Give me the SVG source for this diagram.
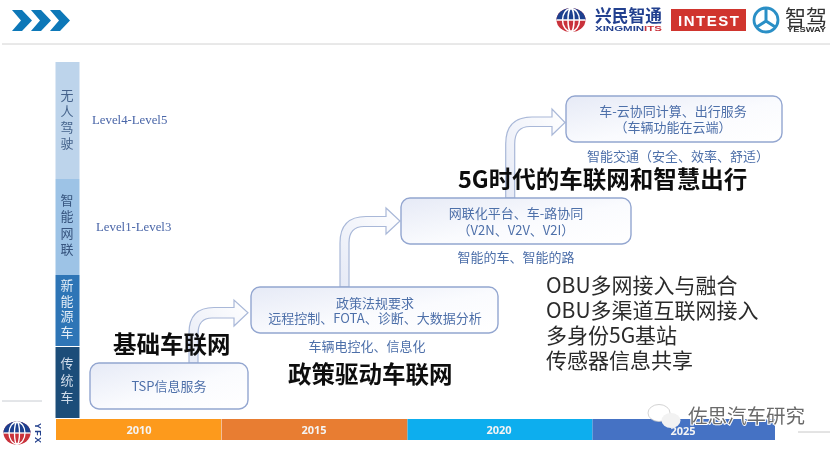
<svg xmlns="http://www.w3.org/2000/svg" width="833" height="451" viewBox="0 0 833 451">
<style>
text{font-family:"Noto Sans CJK SC","Liberation Sans",sans-serif}
.box{fill:url(#bg);stroke:#93a6d0;stroke-width:1.4}
.t{fill:#4d6fa9;font-size:13px;text-anchor:middle}
.h{fill:#111;font-weight:700;font-size:23.5px}
.o{fill:#2b2b2b;font-size:21px}
.arrow{fill:url(#ag);stroke:#a9b8d8;stroke-width:1.2}
.lv{font-family:"Liberation Serif",serif;fill:#4a66a8;font-size:12.800px}
.col{font-size:13px;text-anchor:middle}
.yr{fill:#f4f4f4;font-size:11px;font-weight:700;text-anchor:middle;font-family:"Open Sans","Liberation Sans",sans-serif}
</style>
<defs>
<linearGradient id="bg" x1="0" y1="0" x2="1" y2="1"><stop offset="0" stop-color="#e6eaf6"/><stop offset=".55" stop-color="#fafbfe"/><stop offset="1" stop-color="#fff"/></linearGradient>
<linearGradient id="ag" x1="0" y1="1" x2="1" y2="0"><stop offset="0" stop-color="#e6eaf6"/><stop offset="1" stop-color="#fff"/></linearGradient>
<filter id="soft" x="0" y="0" width="100%" height="100%"><feGaussianBlur stdDeviation="0.35"/></filter>
</defs>
<rect width="833" height="451" fill="#fff"/>
<g filter="url(#soft)">
<g id="header">
<path d="M12 10h10l10 10.500-10 10.500h-10l9-10.500zM31 10h10l10 10.500-10 10.500h-10l9-10.500zM50 10h10l10 10.500-10 10.500h-10l9-10.500z" fill="#0b78b8"/>
<line x1="2" y1="44" x2="830" y2="44" stroke="#d2d2d2"/>
<line x1="2" y1="401" x2="42" y2="401" stroke="#c8ccd2"/>
<line x1="798" y1="432" x2="830" y2="432" stroke="#c8c8c8"/>
</g>
<g id="logo-xingmin">
<ellipse cx="571" cy="20" rx="14.500" ry="12" fill="#c9303a"/>
<path d="M556.500 20a14.500 12 0 0 1 29 0z" fill="#1f3f8f"/>
<g fill="none" stroke="#fff" stroke-width="1.500"><ellipse cx="571" cy="20" rx="3" ry="11.500"/><ellipse cx="571" cy="20" rx="8.500" ry="11.500"/><line x1="556.500" y1="20" x2="585.500" y2="20"/></g>
<text x="595" y="22" font-size="17" font-weight="700" fill="#23408f" textLength="67" lengthAdjust="spacingAndGlyphs">兴民智通</text>
<text x="595" y="31" font-size="8" font-weight="700" fill="#23408f" style="font-family:'Liberation Sans',sans-serif" textLength="67" lengthAdjust="spacingAndGlyphs">XINGMIN<tspan fill="#c9303a">ITS</tspan></text>
</g>
<g id="logo-intest">
<rect x="671" y="9" width="75" height="22" fill="#d0342f"/>
<text x="708.500" y="26" font-size="15" font-weight="700" fill="#fff" text-anchor="middle" style="font-family:'Liberation Sans',sans-serif" textLength="61">INTEST</text>
</g>
<g id="logo-yesway">
<circle cx="766" cy="20" r="12" fill="none" stroke="#2a8fc6" stroke-width="2.800"/>
<path d="M766 21v-12M766 21l-10 6.500M766 21l10 6.500" stroke="#2a8fc6" stroke-width="3" fill="none"/>
<text x="785" y="25" font-size="21" fill="#333" textLength="42" lengthAdjust="spacingAndGlyphs">智驾</text>
<text x="787" y="32" font-size="6.500" font-weight="700" fill="#333" style="font-family:'Liberation Sans',sans-serif" textLength="39" lengthAdjust="spacingAndGlyphs">YESWAY</text>
</g>
<g id="logo-yfx">
<ellipse cx="17" cy="433" rx="13.500" ry="11.500" fill="#c9303a"/>
<path d="M3.500 433a13.500 11.500 0 0 1 27 0z" fill="#1f3f8f"/>
<g fill="none" stroke="#fff" stroke-width="1.300"><ellipse cx="17" cy="433" rx="2.500" ry="11"/><ellipse cx="17" cy="433" rx="8" ry="11"/><line x1="3.500" y1="433" x2="30.500" y2="433"/></g>
<text transform="translate(35,423) rotate(90)" font-size="9" font-weight="700" fill="#22408c" style="font-family:'Liberation Sans',sans-serif" textLength="20">YFX</text>
</g>
<g id="row-autonomous">
<rect x="55.500" y="62" width="24" height="117" fill="#bdd4eb"/>
<text class="col" fill="#46648c" x="67" y="100">无</text><text class="col" fill="#46648c" x="67" y="116">人</text><text class="col" fill="#46648c" x="67" y="132">驾</text><text class="col" fill="#46648c" x="67" y="148">驶</text>
</g>
<g id="row-connected">
<rect x="55.500" y="179" width="24" height="96" fill="#9dc3e6"/>
<text class="col" fill="#37557f" x="67" y="205">智</text><text class="col" fill="#37557f" x="67" y="221">能</text><text class="col" fill="#37557f" x="67" y="238">网</text><text class="col" fill="#37557f" x="67" y="254">联</text>
</g>
<g id="row-nev">
<rect x="55.500" y="275" width="24" height="71" fill="#2e75b6"/>
<text class="col" fill="#e4edf6" x="67" y="290">新</text><text class="col" fill="#e4edf6" x="67" y="306">能</text><text class="col" fill="#e4edf6" x="67" y="321">源</text><text class="col" fill="#e4edf6" x="67" y="337">车</text>
</g>
<g id="row-traditional">
<rect x="55.500" y="347" width="24" height="71" fill="#1f4e79"/>
<text class="col" fill="#cfdcea" x="67" y="368">传</text><text class="col" fill="#cfdcea" x="67" y="385">统</text><text class="col" fill="#cfdcea" x="67" y="402">车</text>
</g>
<g id="level-4-5"><text class="lv" x="92" y="124">Level4-Level5</text></g>
<g id="level-1-3"><text class="lv" x="96" y="231">Level1-Level3</text></g>
<g id="timeline">
<rect x="56" y="419" width="165" height="21" fill="#fd9a1c"/>
<rect x="221.500" y="419" width="186" height="21" fill="#e87d32"/>
<rect x="407.500" y="419" width="185" height="21" fill="#10aeee"/>
<rect x="592.500" y="419" width="182.500" height="21" fill="#4472c4"/>
<text class="yr" x="139" y="434">2010</text>
<text class="yr" x="314" y="434">2015</text>
<text class="yr" x="499" y="434">2020</text>
<text class="yr" x="683" y="435">2025</text>
</g>
<g id="connectors">
<path class="arrow" d="M189 363V333Q189 307.500 214 307.500H234V300L248 312.700 234 326V318H212Q198 318 198 334V363Z"/>
<path class="arrow" d="M340 287V243Q340 216.500 366 216.500H386V208L400 221 386 234V226.500H364Q349 226.500 349 243V287Z"/>
<path class="arrow" d="M505.700 198V144Q505.700 117 532 117H552V109L565 122.500 552 135V126.500H530Q514.700 126.500 514.700 144V198Z"/>
</g>
<g id="node-tsp">
<rect class="box" x="90" y="363" width="158" height="46" rx="9"/>
<text class="t" x="169" y="391">TSP信息服务</text>
</g>
<g id="node-policy">
<rect class="box" x="251" y="287" width="247" height="46" rx="9"/>
<text class="t" x="375" y="308">政策法规要求</text>
<text class="t" x="375" y="323">远程控制、FOTA、诊断、大数据分析</text>
</g>
<g id="node-network">
<rect class="box" x="401" y="198" width="230" height="46" rx="9"/>
<text class="t" x="516" y="218">网联化平台、车-路协同</text>
<text class="t" x="516" y="235">（V2N、V2V、V2I）</text>
</g>
<g id="node-cloud">
<rect class="box" x="566" y="96" width="216" height="46" rx="9"/>
<text class="t" x="673" y="116">车-云协同计算、出行服务</text>
<text class="t" x="673" y="132">（车辆功能在云端）</text>
</g>
<g id="captions">
<text class="t" x="367" y="351">车辆电控化、信息化</text>
<text class="t" x="516" y="262">智能的车、智能的路</text>
<text class="t" x="678" y="161">智能交通（安全、效率、舒适）</text>
</g>
<g id="headings">
<text class="h" x="113" y="353">基础车联网</text>
<text class="h" x="288" y="383">政策驱动车联网</text>
<text class="h" x="458" y="188">5G时代的车联网和智慧出行</text>
</g>
<g id="features">
<text class="o" x="546" y="293">OBU多网接入与融合</text>
<text class="o" x="546" y="318">OBU多渠道互联网接入</text>
<text class="o" x="546" y="343">多身份5G基站</text>
<text class="o" x="546" y="368">传感器信息共享</text>
</g>
<g id="watermark">
<ellipse cx="659" cy="413" rx="11" ry="8.500" fill="#fff" stroke="#c8c8c8" stroke-width=".8"/>
<ellipse cx="671" cy="420.500" rx="9.500" ry="7.500" fill="#f2f2f2"/>
<text x="688" y="423" font-size="19.500" fill="#6a6a6a" stroke="#fff" stroke-width="2" paint-order="stroke">佐思汽车研究</text>
</g>
</g>
</svg>
